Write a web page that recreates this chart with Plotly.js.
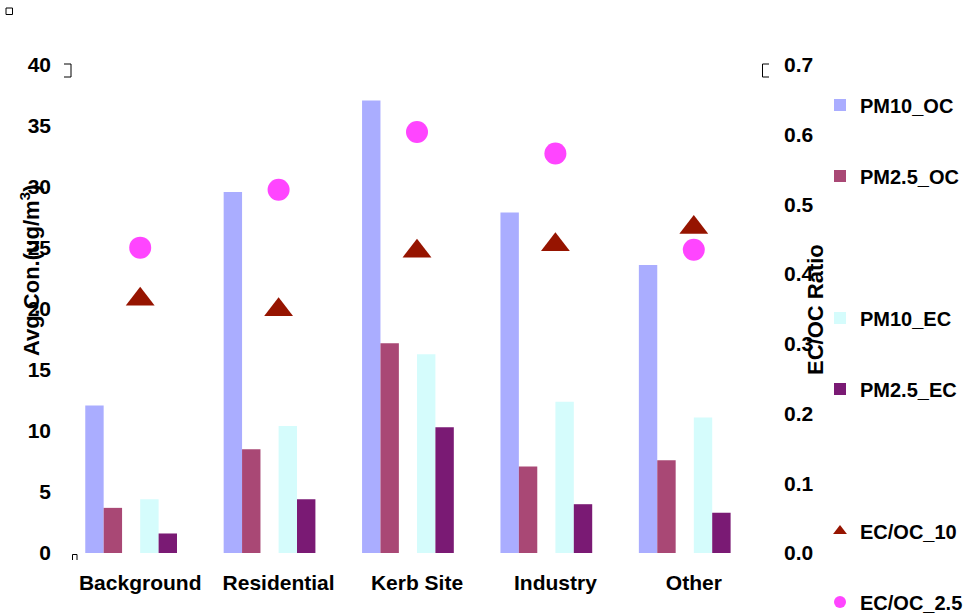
<!DOCTYPE html>
<html>
<head>
<meta charset="utf-8">
<script src="https://cdn.plot.ly/plotly-3.0.1.min.js"></script>
<style>
  html, body { margin: 0; padding: 0; background: #fff; }
  #chart { width: 967px; height: 616px; }
</style>
</head>
<body>
<div id="chart"></div>
<script>
// Site categories
const sites = ['Background', 'Residential', 'Kerb Site', 'Industry', 'Other'];

// Average concentrations (ug/m3)
const pm10OC  = [12.1, 29.6, 37.1, 27.9, 23.6];
const pm25OC  = [3.7, 8.5, 17.2, 7.1, 7.6];
const pm10EC  = [4.4, 10.4, 16.3, 12.4, 11.1];
const pm25EC  = [1.6, 4.4, 10.3, 4.0, 3.3];

// EC/OC ratios (right axis)
const ecoc10  = [0.364, 0.349, 0.433, 0.442, 0.467];
const ecoc25  = [0.438, 0.521, 0.604, 0.573, 0.435];

// Series names
const names = ['PM10_OC', 'PM2.5_OC', 'PM10_EC', 'PM2.5_EC', 'EC/OC_10', 'EC/OC_2.5'];

// Plot box in pixels
const L = 71, T = 65, W = 692, H = 488;
const FIG_W = 967, FIG_H = 616;
const px = x => (x - L) / W;
const py = y => (T + H - y) / H;

const FONT = 'Liberation Sans, Arial, sans-serif';
const BAR_W = 0.133;

function barTrace(name, values, color, offset, legendId) {
  return {
    type: 'bar', name: name, x: sites, y: values,
    width: BAR_W, offset: offset,
    marker: { color: color, line: { width: 0 } },
    legend: legendId
  };
}

const traces = [
  barTrace(names[0], pm10OC, '#aaadff', -0.397, 'legend'),
  barTrace(names[1], pm25OC, '#a94875', -0.264, 'legend2'),
  barTrace(names[2], pm10EC, '#d5fcfc', 0.0, 'legend3'),
  barTrace(names[3], pm25EC, '#7a1a74', 0.133, 'legend4'),
  {
    type: 'scatter', mode: 'markers', name: names[4], x: sites, y: ecoc10,
    yaxis: 'y2', legend: 'legend5',
    marker: { symbol: 'triangle-up', size: 25, color: '#961400' }
  },
  {
    type: 'scatter', mode: 'markers', name: names[5], x: sites, y: ecoc25,
    yaxis: 'y2', legend: 'legend6',
    marker: { symbol: 'circle', size: 22, color: '#ff45ff' }
  }
];

function legendAt(yPix) {
  return {
    x: px(820), y: py(yPix), xanchor: 'left', yanchor: 'middle',
    bgcolor: 'rgba(0,0,0,0)', borderwidth: 0,
    font: { family: FONT, size: 20, color: '#000', weight: 'bold' },
    itemsizing: 'constant', itemwidth: 30
  };
}

// Corner handles around the chart frame
const ln = { color: '#000', width: 1 };
const shapes = [
  { type: 'rect', xref: 'paper', yref: 'paper', x0: px(6), x1: px(12.5), y0: py(8), y1: py(14.5), line: ln },
  { type: 'path', xref: 'paper', yref: 'paper', line: ln,
    path: `M${px(64)},${py(64)} L${px(71)},${py(64)} L${px(71)},${py(77)} L${px(64)},${py(77)}` },
  { type: 'path', xref: 'paper', yref: 'paper', line: ln,
    path: `M${px(769)},${py(64)} L${px(762.5)},${py(64)} L${px(762.5)},${py(77)} L${px(769)},${py(77)}` },
  { type: 'path', xref: 'paper', yref: 'paper', line: ln,
    path: `M${px(72.5)},${py(560)} L${px(72.5)},${py(554.5)} L${px(77)},${py(554.5)} L${px(77)},${py(560)}` }
];

const layout = {
  width: FIG_W, height: FIG_H,
  margin: { l: L, r: FIG_W - L - W, t: T, b: FIG_H - T - H, pad: 0, autoexpand: false },
  paper_bgcolor: '#fff', plot_bgcolor: '#fff',
  barmode: 'overlay',
  font: { family: FONT, size: 21, color: '#000', weight: 'bold' },
  xaxis: {
    type: 'category', range: [-0.5, 4.5], automargin: false,
    showgrid: false, zeroline: false, showline: false,
    ticks: '', ticklabelstandoff: 15,
    tickfont: { family: FONT, size: 21, color: '#000', weight: 'bold' }
  },
  yaxis: {
    range: [0, 40], dtick: 5, tick0: 0, automargin: false,
    showgrid: false, zeroline: false, showline: false,
    ticks: '', ticklabelstandoff: 19,
    tickfont: { family: FONT, size: 21, color: '#000', weight: 'bold' }
  },
  yaxis2: {
    overlaying: 'y', side: 'right', automargin: false,
    range: [0, 0.7], dtick: 0.1, tick0: 0, tickformat: '.1f',
    showgrid: false, zeroline: false, showline: false,
    ticks: '', ticklabelstandoff: 20,
    tickfont: { family: FONT, size: 21, color: '#000', weight: 'bold' }
  },
  legend: legendAt(105),
  legend2: legendAt(176),
  legend3: legendAt(318),
  legend4: legendAt(389),
  legend5: legendAt(531),
  legend6: legendAt(602),
  shapes: shapes,
  annotations: [
    {
      xref: 'paper', yref: 'paper', x: px(30), y: py(270),
      text: 'Avg.Con.(ug/m<sup>3</sup>)', textangle: -90, showarrow: false,
      xanchor: 'center', yanchor: 'middle',
      font: { family: FONT, size: 22, color: '#000', weight: 'bold' }
    },
    {
      xref: 'paper', yref: 'paper', x: px(815), y: py(310),
      text: 'EC/OC Ratio', textangle: -90, showarrow: false,
      xanchor: 'center', yanchor: 'middle',
      font: { family: FONT, size: 22, color: '#000', weight: 'bold' }
    }
  ],
  showlegend: true
};

Plotly.newPlot('chart', traces, layout, { displayModeBar: false, staticPlot: true });
</script>
</body>
</html>
